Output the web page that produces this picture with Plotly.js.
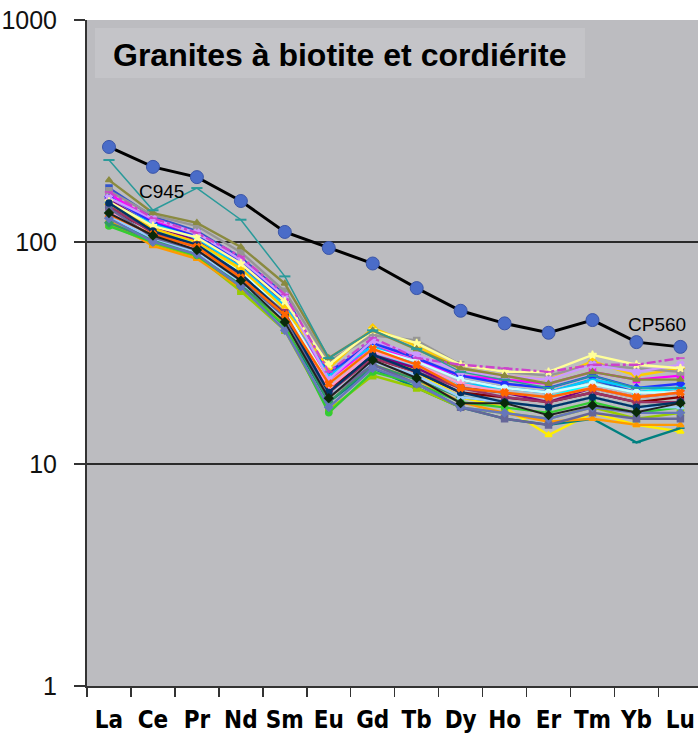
<!DOCTYPE html>
<html>
<head>
<meta charset="utf-8">
<script src="https://cdn.plot.ly/plotly-3.0.1.min.js"></script>
<style>html,body{margin:0;padding:0;background:#fff;overflow:hidden}</style>
</head>
<body>
<div id="chart" style="width:698px;height:744px"></div>
<script>
const elements = ["La","Ce","Pr","Nd","Sm","Eu","Gd","Tb","Dy","Ho","Er","Tm","Yb","Lu"];
const yTickVals = [1, 10, 100, 1000];
const yTickText = ["1", "10", "100", "1000"];

// Cluster of granite samples (chondrite-normalised REE)
const s01 = [175,130,112,85,58,25,36,30,24,22,21,24,21,22];
const s02 = [165,125,105,80,52,24,34,29,25,24,23,26,24,25];
const s03 = [150,112,100,75,50,23,33,26,20,18,13.5,17,15,14];
const s04 = [140,115,98,72,49,22,32,27,22,21,20,23,21,22];
const s05 = [155,118,102,78,53,21,31,27,22,21,19,22,20,21];
const s06 = [145,108,95,70,47,22,30,26,21,20,19,21,19,20];
const s07 = [128,103,88,62,42,19,27,22,18,16,15,16,12.5,14.5];
const s08 = [160,122,106,82,55,26,35,30,25,23,22,25,22,23];
const s09 = [150,120,104,77,52,25,34,28,23,22,21,24,22,22];
const s10 = [135,110,96,73,50,23,33,29,24,22,21,23,21,21];
const s11 = [120,98,86,60,40,17.5,25,22,18,17,16,18,16,17];
const s12 = [148,115,100,76,50,27,41,34,27,25,24,29,25,27];
const s13 = [125,96,84,62,43,20,28,24,19,17,15.5,16,15,15];
const s14 = [170,132,118,90,60,29,38,36,28,26,25,28,27,26];
const s15 = [118,100,87,63,42,17,26,23,19,18,17,19,17,18];
const s16 = [158,127,110,83,57,24,36,31,26,25,24,28,26,28];
const s17 = [138,106,93,70,48,22,32,28,23,21,20,22,20,21];
const s18 = [122,102,90,64,44,19,28,24,20,19,18,20,18,19];
const s19 = [145,110,97,71,48,21,30,26,22,20,19,21,19,19];
const s20 = [152,118,105,80,54,28,40,35,28,26,26,31,28,27];
const s21 = [130,104,90,66,45,20,29,25,20,19,18,20,18,18];
const s22 = [142,105,92,68,46,20,28,23,18,16,15,17,16,16];
const s23 = [150,112,97,72,47,21,31,26,21,19,18,20,18,19];
const s24 = [133,108,95,69,47,23,33,28,22,21,20,22,20,21];
const s25 = [190,135,122,95,65,30,40,33,27,25,23,26,24,24];
const s26 = [168,128,110,86,58,26,37,30,28,27,26,28,28,30];
const s27 = [128,100,88,63,40,18,27,23,18,17,16,18,17,17];
const sBlack = [135,107,92,67,43.6,19.8,29.4,24.4,18.8,18.8,16.6,18.4,17.1,18.8];
const c945 = [234,139,175,126,70,30,40,33,26,24,22,25,22,22];
const cp560 = [268,218,196,153,111,94,80,62,49,43,39,44.5,35.4,33.7];

const cluster = [
  {name:"s01", y:s01, color:"#3355cc", symbol:"square"},
  {name:"s02", y:s02, color:"#ff00ff", symbol:"square"},
  {name:"s03", y:s03, color:"#ffee00", symbol:"triangle-up"},
  {name:"s04", y:s04, color:"#00ffff", symbol:"x"},
  {name:"s05", y:s05, color:"#800080", symbol:"star"},
  {name:"s06", y:s06, color:"#800000", symbol:"circle"},
  {name:"s07", y:s07, color:"#008080", symbol:"line-ew-open"},
  {name:"s08", y:s08, color:"#2233ff", symbol:"diamond"},
  {name:"s09", y:s09, color:"#00ccff", symbol:"line-ew-open"},
  {name:"s10", y:s10, color:"#ccffff", symbol:"circle"},
  {name:"s11", y:s11, color:"#99cc00", symbol:"square"},
  {name:"s12", y:s12, color:"#ffcc00", symbol:"diamond"},
  {name:"s13", y:s13, color:"#ff9900", symbol:"triangle-up"},
  {name:"s14", y:s14, color:"#969696", symbol:"square"},
  {name:"s15", y:s15, color:"#33cc33", symbol:"circle"},
  {name:"s16", y:s16, color:"#cc99ff", symbol:"x"},
  {name:"s17", y:s17, color:"#ff99cc", symbol:"star"},
  {name:"s18", y:s18, color:"#339966", symbol:"diamond"},
  {name:"s19", y:s19, color:"#993366", symbol:"square"},
  {name:"s20", y:s20, color:"#ffff99", symbol:"star"},
  {name:"s21", y:s21, color:"#99ccff", symbol:"triangle-up"},
  {name:"s22", y:s22, color:"#666699", symbol:"square"},
  {name:"s23", y:s23, color:"#003366", symbol:"circle"},
  {name:"s24", y:s24, color:"#ff6600", symbol:"x"},
  {name:"s25", y:s25, color:"#8a8a40", symbol:"triangle-up"},
  {name:"s26", y:s26, color:"#cc44cc", symbol:"line-ew-open", dash:"dashdot"},
  {name:"s27", y:s27, color:"#6677bb", symbol:"diamond"}
];

const traces = cluster.map(s => ({
  type:"scatter", mode:"lines+markers", x:elements, y:s.y, name:s.name,
  line:{color:s.color, width:2.4, dash:s.dash || "solid"},
  marker:{color:s.color, symbol:s.symbol, size:6, line:{color:s.color, width:1.5}}
}));
traces.push({
  type:"scatter", mode:"lines+markers", x:elements, y:sBlack, name:"black",
  line:{color:"#222", width:2},
  marker:{color:"#0a2a0a", symbol:"diamond", size:8}
});
traces.push({
  type:"scatter", mode:"lines+markers", x:elements, y:c945, name:"C945",
  line:{color:"#2a9a9a", width:1.5},
  marker:{color:"#2a9a9a", symbol:"line-ew-open", size:8, line:{color:"#2a9a9a", width:2}}
});
traces.push({
  type:"scatter", mode:"lines+markers", x:elements, y:cp560, name:"CP560",
  line:{color:"#000", width:3},
  marker:{color:"#4a6cc8", symbol:"circle", size:13, line:{color:"#3a55a8", width:1}}
});

const layout = {
  width:698, height:744,
  margin:{l:87, r:0, t:20, b:58},
  paper_bgcolor:"#ffffff", plot_bgcolor:"#bcbcc0",
  showlegend:false,
  font:{family:"Liberation Sans, Arial, sans-serif", color:"#111"},
  xaxis:{
    type:"category", range:[-0.5, 13.4], tickson:"boundaries", tickangle:0,
    ticks:"outside", ticklen:9, tickcolor:"#333", tickwidth:1.5,
    showgrid:false, showline:true, linecolor:"#333", linewidth:2,
    tickfont:{family:"Liberation Sans Narrow, DejaVu Sans Condensed, Arial Narrow, sans-serif", size:24, color:"#000", weight:"bold"},
    ticklabelstandoff:11, zeroline:false, fixedrange:true
  },
  yaxis:{
    type:"log", range:[0, 3], tickvals:yTickVals, ticktext:yTickText,
    ticks:"outside", ticklen:11, tickcolor:"#333", tickwidth:1.5,
    showgrid:true, gridcolor:"#2a2a2a", gridwidth:1.2,
    showline:true, linecolor:"#333", linewidth:2,
    tickfont:{family:"Liberation Sans, Arial, sans-serif", size:25, color:"#111"},
    ticklabelstandoff:12, zeroline:false, fixedrange:true
  },
  shapes:[{
    type:"rect", xref:"paper", yref:"paper", x0:0.013, x1:0.815, y0:0.913, y1:0.988,
    fillcolor:"#c4c4c8", line:{width:0}, layer:"below"
  }],
  annotations:[
    {xref:"paper", yref:"paper", x:0.414, y:0.948, yanchor:"middle", text:"Granites à biotite et cordiérite",
     showarrow:false, font:{family:"Liberation Sans, Arial, sans-serif", size:32, color:"#000", weight:"bold"}},
    {x:"Ce", y:Math.log10(168), xref:"x", yref:"y", text:"C945", showarrow:false, yanchor:"middle",
     xshift:9, font:{family:"Liberation Sans, Arial, sans-serif", size:19, color:"#000"}},
    {x:"Yb", y:Math.log10(42.5), xref:"x", yref:"y", text:"CP560", showarrow:false, yanchor:"middle",
     xshift:21, font:{family:"Liberation Sans, Arial, sans-serif", size:19, color:"#000"}}
  ]
};

Plotly.newPlot("chart", traces, layout, {displayModeBar:false, staticPlot:true});
</script>
</body>
</html>
